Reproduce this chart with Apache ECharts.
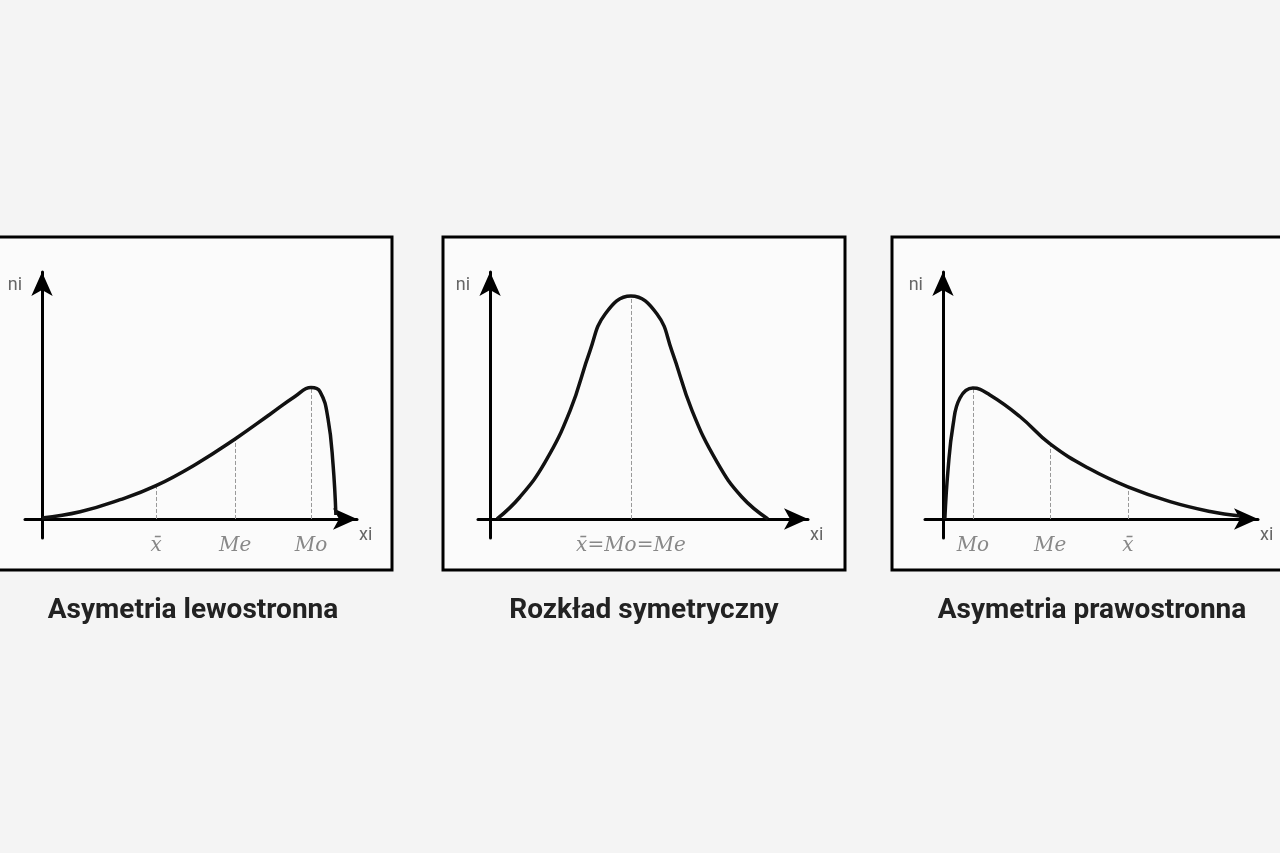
<!DOCTYPE html>
<html>
<head>
<meta charset="utf-8">
<script src="https://cdn.jsdelivr.net/npm/echarts@6/dist/echarts.min.js"></script>
<style>
html, body { margin: 0; padding: 0; background: #f4f4f4; }
#chart { width: 1280px; height: 853px; }
</style>
</head>
<body>
<div id="chart"></div>
<script>
// curve points [x, y] in axis units (0..100)
var leftSkew = [[0, 0.4], [12.1, 2.9], [24.8, 7.8], [36.2, 13.5], [48.6, 22], [61.3, 32.4], [72.4, 42.4], [80.3, 49.6], [85.4, 53.2], [88.3, 51.5], [90.8, 40.6], [92.4, 22], [93.3, 1.6]];
var symmetric = [[2.2, 0], [9.4, 8.9], [17.3, 23], [25.2, 44], [31.4, 68], [36.2, 83], [44.3, 90.3], [52.5, 83], [57.2, 68], [63.5, 44], [71.4, 23], [79.2, 8.9], [87.4, 0]];
var rightSkew = [[0.6, 0], [1.6, 19.8], [3.2, 38], [5.4, 49], [9.5, 53], [14.9, 50.2], [24.4, 41.5], [34, 30.4], [46.7, 20.2], [58.7, 13], [72.1, 7], [84.8, 3], [94.3, 1.2]];

// measures: [x, height, label]
var leftMarks = [[36.2, 13.5, 'x̄'], [61.3, 32.4, 'Me'], [85.4, 53.2, 'Mo']];
var symMarks = [[44.3, 90.3, 'x̄=Mo=Me']];
var rightMarks = [[9.5, 53, 'Mo'], [34, 30.4, 'Me'], [58.7, 13, 'x̄']];

var titles = ['Asymetria lewostronna', 'Rozkład symetryczny', 'Asymetria prawostronna'];

var panels = [
    {grid: {left: 25, top: 272, width: 332, height: 266}, xMin: -5.4, data: leftSkew, marks: leftMarks, box: [-5, 237, 397, 333], tx: 193},
    {grid: {left: 478, top: 272, width: 330, height: 266}, xMin: -3.8, data: symmetric, marks: symMarks, box: [443, 237, 402, 333], tx: 644},
    {grid: {left: 925, top: 272, width: 333, height: 266}, xMin: -5.7, data: rightSkew, marks: rightMarks, box: [892, 237, 395, 333], tx: 1092}
];

var grids = [], xAxes = [], yAxes = [], series = [], graphics = [];

panels.forEach(function (p, i) {
    grids.push(p.grid);
    xAxes.push({
        type: 'value', gridIndex: i, min: p.xMin, max: 100,
        name: 'xi', nameLocation: 'end', nameGap: 2,
        nameTextStyle: {color: '#666', fontSize: 18, fontFamily: 'Roboto', verticalAlign: 'top', padding: [8, 0, 0, 0]},
        axisLine: {onZero: true, lineStyle: {color: '#000', width: 3}, symbol: ['none', 'arrow'], symbolSize: [16, 24]},
        axisTick: {show: false},
        splitLine: {show: false},
        axisLabel: {
            customValues: p.marks.map(function (m) { return m[0]; }),
            formatter: function (v) {
                for (var k = 0; k < p.marks.length; k++) {
                    if (Math.abs(p.marks[k][0] - v) < 0.01) return p.marks[k][2];
                }
                return '';
            },
            color: '#888', fontSize: 20, fontStyle: 'italic', fontFamily: 'DejaVu Serif', margin: -2
        }
    });
    yAxes.push({
        type: 'value', gridIndex: i, min: -7.7, max: 100,
        name: 'ni', nameLocation: 'end', nameGap: -22,
        nameTextStyle: {color: '#666', fontSize: 18, fontFamily: 'Roboto', align: 'right', padding: [0, 20, 0, 0]},
        axisLine: {onZero: true, lineStyle: {color: '#000', width: 3}, symbol: ['none', 'arrow'], symbolSize: [16, 24]},
        axisTick: {show: false},
        axisLabel: {show: false},
        splitLine: {show: false}
    });
    series.push({
        type: 'line', xAxisIndex: i, yAxisIndex: i,
        data: p.data, smooth: 0.45, showSymbol: false, silent: true,
        lineStyle: {color: '#111', width: 3.5},
        z: 5,
        markLine: {
            silent: true, symbol: 'none',
            lineStyle: {color: '#999', type: 'dashed', width: 1},
            label: {show: false},
            data: p.marks.map(function (m) { return [{coord: [m[0], 0]}, {coord: [m[0], m[1]]}]; })
        }
    });
    graphics.push({
        type: 'rect', z: -10,
        shape: {x: p.box[0], y: p.box[1], width: p.box[2], height: p.box[3]},
        style: {fill: '#fbfbfb', stroke: '#000', lineWidth: 3}
    });
    graphics.push({
        type: 'text', x: p.tx, y: 611,
        style: {text: titles[i], fill: '#222', font: 'bold 28px Roboto', textAlign: 'center', textVerticalAlign: 'middle'}
    });
});

var chart = echarts.init(document.getElementById('chart'));
chart.setOption({
    backgroundColor: '#f4f4f4',
    animation: false,
    grid: grids,
    xAxis: xAxes,
    yAxis: yAxes,
    graphic: graphics,
    series: series
});
</script>
</body>
</html>
